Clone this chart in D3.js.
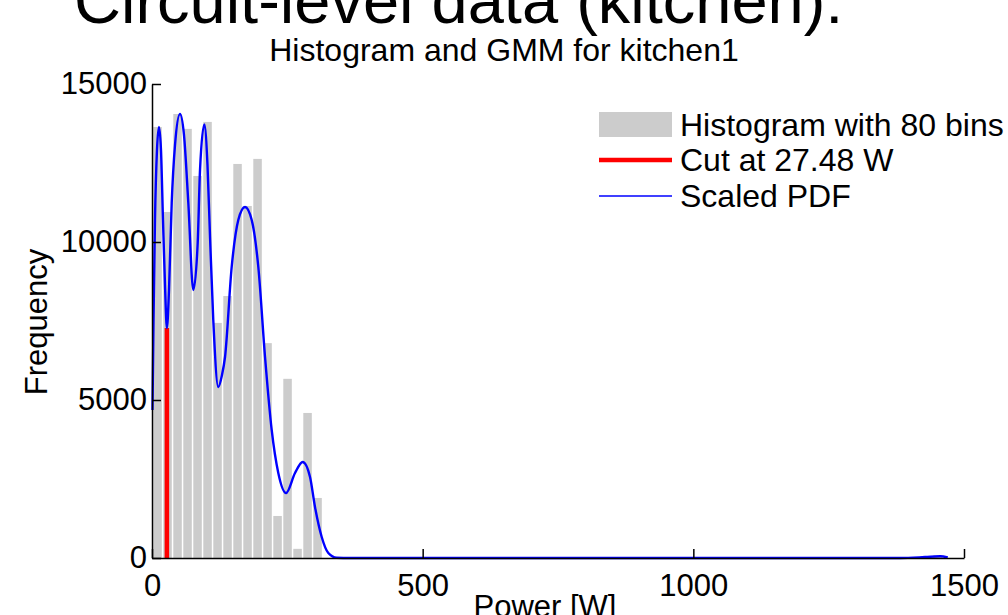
<!DOCTYPE html>
<html lang="en">
<head>
<meta charset="UTF-8">
<script src="https://d3js.org/d3.v7.min.js"></script>
<title>Histogram and GMM for kitchen1</title>
<style>
body{
	margin: 0;
	background: #fff;
	font-family: "Liberation Sans", Arial, sans-serif;
}
svg text{ fill: #000; }
.axis path, .axis line{ stroke: #000; stroke-width: 1.5px; }
.axis text{ font-size: 31px; font-family: "Liberation Sans", Arial, sans-serif; }
</style>
</head>
<body>
<svg id="chart"></svg>
<script>
// histogram, 80 bins between min and max power
var binMin = 1, binMax = 1479;
var binCounts = [
	13640, 10950, 14050, 13580, 12090, 13800, 7440, 8290, 12470, 11140,
	12630, 6800, 1330, 5670, 290, 4590, 1900, 0, 0, 0,
	0, 0, 0, 0, 0, 0, 0, 0, 0, 0,
	0, 0, 0, 0, 0, 0, 0, 0, 0, 0,
	0, 0, 0, 0, 0, 0, 0, 0, 0, 0,
	0, 0, 0, 0, 0, 0, 0, 0, 0, 0,
	0, 0, 0, 0, 0, 0, 0, 0, 0, 0,
	0, 0, 0, 0, 0, 0, 0, 0, 90, 0
];

// scaled GMM pdf
var pdfPower = [0.9, 2.8, 5.5, 9.2, 12.9, 16.6, 20.3, 24.0, 27.5, 31.4,
	36.4, 42.5, 51.7, 59.1, 67.1, 76.3, 84.4, 88.7, 96.6, 102.5,
	107.2, 113.2, 122.5, 129.3, 134.9, 147.2, 159.4, 171.8, 184.2, 196.4,
	208.8, 221.1, 233.3, 247.6, 264.2, 278.4, 291.9, 301.1, 313.5, 325.7,
	341.2, 365.8, 1382, 1428, 1456, 1470];
var pdfFreq = [4684, 7532, 10696, 12912, 13640, 12912, 10696, 8639, 7280, 8481,
	11234, 13070, 14051, 13386, 11234, 8481, 9968, 12279, 13718, 12437,
	10158, 7532, 5411, 5791, 6361, 9209, 10696, 11108, 10696, 9209,
	6361, 4051, 2690, 2057, 2690, 3038, 2563, 1614, 665, 158,
	10, 0, 0, 30, 55, 15];

var cutPower = 27.48, cutFreq = 7280;

var xTicks = [0, 500, 1000, 1500];
var yTicks = [0, 5000, 10000, 15000];
var legendLabels = ["Histogram with 80 bins", "Cut at 27.48 W", "Scaled PDF"];

var W = 1008, H = 615;
var margin = {top: 84, right: 44, bottom: 57, left: 152};

var svg = d3.select("#chart").attr("width", W).attr("height", H);

// slide heading, cut off at the top
svg.append("text")
	.attr("x", 74).attr("y", 23)
	.style("font-size", "65px")
	.text("Circuit-level data (kitchen):");

var x = d3.scaleLinear().domain([0, 1500]).range([margin.left, W - margin.right]);
var y = d3.scaleLinear().domain([0, 15000]).range([H - margin.bottom, margin.top]);

var bw = (binMax - binMin) / binCounts.length;

svg.append("g").selectAll("rect")
	.data(binCounts)
	.enter().append("rect")
	.attr("x", function(d, i) { return x(binMin + i * bw) + 0.75; })
	.attr("width", function(d, i) { return x(binMin + (i + 1) * bw) - x(binMin + i * bw) - 1.5; })
	.attr("y", function(d) { return y(d); })
	.attr("height", function(d) { return y(0) - y(d); })
	.attr("fill", "#cccccc");

// cut line
svg.append("line")
	.attr("x1", x(cutPower)).attr("x2", x(cutPower))
	.attr("y1", y(0)).attr("y2", y(cutFreq))
	.attr("stroke", "#ff0000")
	.attr("stroke-width", 4.5);

var pdf = pdfPower.map(function(p, i) { return [p, pdfFreq[i]]; });
svg.append("path")
	.datum(pdf)
	.attr("fill", "none")
	.attr("stroke", "#0000ff")
	.attr("stroke-width", 2.4)
	.attr("d", d3.line()
		.curve(d3.curveMonotoneX)
		.x(function(d) { return x(d[0]); })
		.y(function(d) { return y(d[1]); }));

// axes, ticks pointing inward like matlab
svg.append("g")
	.attr("class", "axis")
	.attr("transform", "translate(0," + y(0) + ")")
	.call(d3.axisBottom(x).tickValues(xTicks).tickFormat(d3.format("d"))
		.tickSizeInner(-9).tickSizeOuter(0).tickPadding(16));

svg.append("g")
	.attr("class", "axis")
	.attr("transform", "translate(" + x(0) + ",0)")
	.call(d3.axisLeft(y).tickValues(yTicks).tickFormat(d3.format("d"))
		.tickSizeInner(-9).tickSizeOuter(0).tickPadding(5));

// titles
svg.append("text")
	.attr("x", 504).attr("y", 61)
	.attr("text-anchor", "middle")
	.style("font-size", "32px")
	.text("Histogram and GMM for kitchen1");

svg.append("text")
	.attr("transform", "translate(47,322) rotate(-90)")
	.attr("text-anchor", "middle")
	.style("font-size", "31px")
	.text("Frequency");

svg.append("text")
	.attr("x", 545).attr("y", 617)
	.attr("text-anchor", "middle")
	.style("font-size", "31px")
	.text("Power [W]");

// legend
var lg = svg.append("g").attr("transform", "translate(599,0)");
lg.append("rect").attr("x", 0).attr("y", 112).attr("width", 73).attr("height", 25).attr("fill", "#cccccc");
lg.append("line").attr("x1", 0).attr("x2", 73).attr("y1", 160).attr("y2", 160)
	.attr("stroke", "#ff0000").attr("stroke-width", 4.5);
lg.append("line").attr("x1", 0).attr("x2", 73).attr("y1", 196).attr("y2", 196)
	.attr("stroke", "#0000ff").attr("stroke-width", 1.5);
lg.selectAll("text.lab")
	.data(legendLabels)
	.enter().append("text")
	.attr("class", "lab")
	.attr("x", 81)
	.attr("y", function(d, i) { return [136, 171, 207][i]; })
	.style("font-size", "32px")
	.text(function(d) { return d; });
</script>
</body>
</html>
